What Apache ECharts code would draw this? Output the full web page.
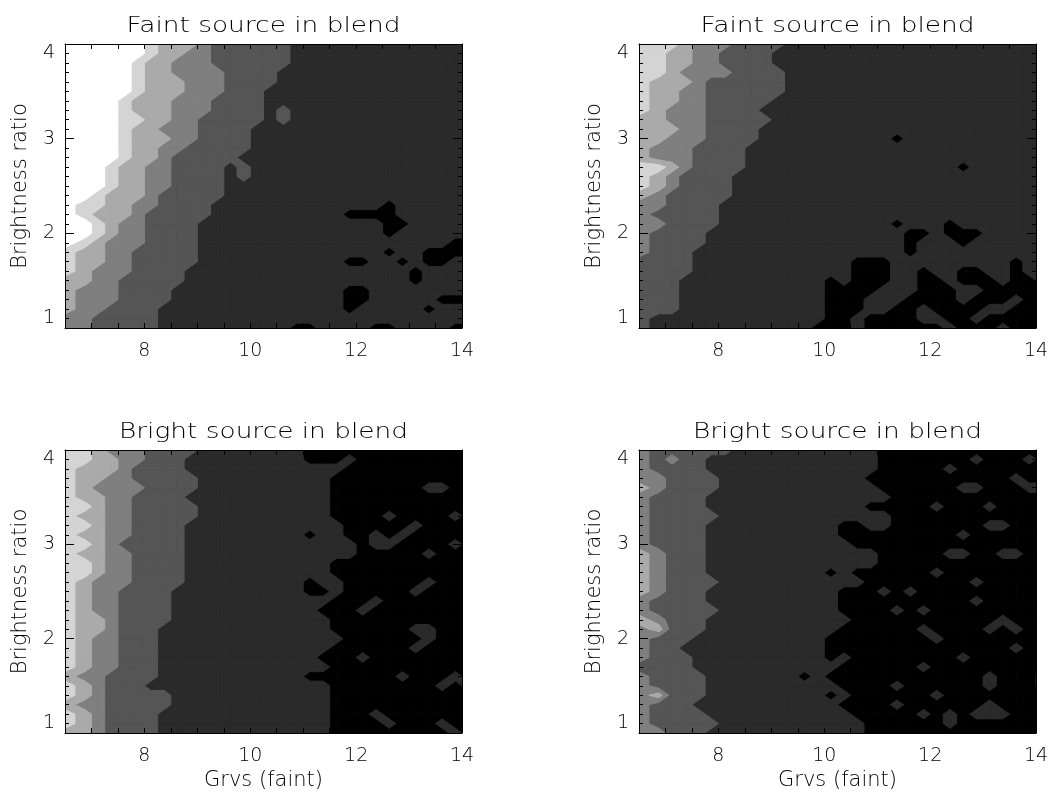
<!DOCTYPE html>
<html>
<head>
<meta charset="utf-8">
<script src="https://cdn.jsdelivr.net/npm/echarts@6/dist/echarts.min.js"></script>
<style>
  html, body { margin: 0; padding: 0; background: #fff; }
  #chart { width: 1056px; height: 796px; }
</style>
</head>
<body>
<div id="chart"></div>
<script>
// grid nodes of the contour maps (the first cell is stretched to the left axis edge)
const grvsNodes = [6.625, 6.875, 7.125, 7.375, 7.625, 7.875, 8.125, 8.375, 8.625, 8.875, 9.125,
  9.375, 9.625, 9.875, 10.125, 10.375, 10.625, 10.875, 11.125, 11.375, 11.625, 11.875, 12.125,
  12.375, 12.625, 12.875, 13.125, 13.375, 13.625, 13.875, 14.125];
const ratioNodes = [1.0, 1.1, 1.2, 1.3, 1.4, 1.5, 1.6, 1.7, 1.8, 1.9, 2.0, 2.1, 2.2, 2.3, 2.4, 2.5,
  2.6, 2.7, 2.8, 2.9, 3.0, 3.1, 3.2, 3.3, 3.4, 3.5, 3.6, 3.7, 3.8, 3.9, 4.0];
const xTickLabels = [8, 10, 12, 14];
const titles = ['Faint source in blend', 'Faint source in blend', 'Bright source in blend', 'Bright source in blend'];

// contour level at each node (0 = black ... 6 = white)
// one string per ratio row, top row (4.0) first, one digit per Grvs node
const faintLeft = [
  '6666665444322222211111111111111',
  '6666665443322222211111111111111',
  '6666654433322222211111111111111',
  '6666654433332222111111111111111',
  '6666654443332222111111111111111',
  '6666654443332221111111111111111',
  '6666544433322221111111111111111',
  '6666544433322221211111111111111',
  '6666554433222221211111111111111',
  '6666544333222211111111111111111',
  '6666544433222211111111111111111',
  '6666544332222211111111111111111',
  '6666544322222111111111111111111',
  '6665443322221211111111111111111',
  '6665443322221211111111111111111',
  '6665443322221111111111111111111',
  '6654443222221111111111111111110',
  '6554433222211111111111110111111',
  '6544432222211111111110000111111',
  '6654332222111111111111110011111',
  '6654332222111111111111110111111',
  '6543332222111111111111111111100',
  '5443322222111111111111110110000',
  '5443322222111111111110011010011',
  '5433322221111111111111111101111',
  '4433222221111111111111111101111',
  '4333222211111111111110011111111',
  '4333222211111111111110011111000',
  '4332222111111111111110111110111',
  '3322222111111111111111111111111',
  '3322222111111111100111100111100'
];
const faintRight = [
  '5554333222211111111111111111111',
  '5544332222111111111111111111111',
  '5544332222111111111111111111111',
  '5543333222211111111111111111111',
  '5444322222211111111111111111111',
  '5443322222211111111111111111111',
  '5443322222111111111111111111111',
  '5433322221111111111111111111111',
  '4433322222111111111111111111111',
  '4443322221111111111111111111111',
  '4433322221111111111011111111111',
  '4333222211111111111111111111111',
  '4333222211111111111111111111111',
  '5543222211111111111111110111111',
  '5432222111111111111111111111111',
  '5432222111111111111111111111111',
  '4322222111111111111111111111111',
  '3322221111111111111111111111111',
  '3222221111111111111111111111111',
  '3322221111111111111011101111111',
  '3222211111111111111100100011111',
  '3222211111111111111101110111111',
  '3222111111111111111101111111111',
  '2222111111111111000111111111011',
  '2222111111111111000110110011011',
  '2221111111111101000110010001001',
  '2221111111111100001110001100000',
  '2221111111111100011100001000100',
  '2221111111111100011001000011000',
  '2111111111111100100001100100000',
  '2111111111111000100000010001000'
];
const brightLeft = [
  '5543332222111111110000000000000',
  '5544332221111111110001000000000',
  '5444322221111111111110000000000',
  '5443322222111111111100000000000',
  '5433332222111111111100000001100',
  '5443322221111111111100000000000',
  '5543322222111111111100000000000',
  '5443322222111111111100001000010',
  '5543322221111111111110000010000',
  '5443322221111111110110010100000',
  '5543222221111111111111011000010',
  '5443322221111111111111000001000',
  '5543322221111111111100000000000',
  '5543322221111111111100000000000',
  '5433322221111111110110000001001',
  '5433222211111111110010000010000',
  '5433222211111111111100010000000',
  '5433222211111111111000100000000',
  '5443222211111111111100000000000',
  '5443222111111111111100000011000',
  '5433222111111111111110000001000',
  '5433222111111111111100000010000',
  '5433222111111111111000100000000',
  '5433222111111111111100000000000',
  '4332222111111111110000000100010',
  '5432221111111111111100000000101',
  '5432222211111111111100000000000',
  '4332222211111111111100000000000',
  '5432222111111111111100010000000',
  '5432222111111111111100001000100',
  '4432222111111111111100000000010'
];
const brightRight = [
  '3222222111111111110000000000000',
  '3232211111111111110000000100010',
  '3222211111111111110000010000000',
  '3322221111111111100000000000100',
  '4322221111111111110000001100011',
  '3222211111111111111000000000000',
  '3222211111111111100000100010000',
  '3222221111111111111000000000000',
  '3222211111111110011000000011000',
  '3222211111111110000000001000000',
  '3222211111111111000000000000000',
  '4322211111111111110000011001100',
  '4322211111111111110000000000000',
  '4322211111111101000000100000000',
  '4322221111111111100000000100000',
  '4322211111111110001010000000000',
  '3222211111111110000000000100000',
  '3222221111111110000101000000001',
  '4322211111111111000000000001000',
  '3422211111111110000001000010100',
  '3222111111111100000000100000000',
  '3221111111111100000000000000100',
  '3222111111111101000000001000000',
  '2222111111111110000001000000000',
  '3222211111110100000000000010001',
  '3222211111111110000100000010001',
  '3422211111111101000000100000000',
  '3222111111111110000100000010000',
  '3222211111111111000001010111000',
  '3222221111111111100000010000000',
  '3322211111111111100000000000000'
];

const levelColors = ['#000000', '#2a2a2a', '#555555', '#7f7f7f', '#aaaaaa', '#d4d4d4', '#ffffff'];
const FONT = 'DejaVu Sans';
const X_MIN = 6.5, X_MAX = 14;

const panels = [
  { rows: faintLeft, left: 65, top: 44, height: 284, xName: '' },
  { rows: faintRight, left: 639, top: 44, height: 284, xName: '' },
  { rows: brightLeft, left: 65, top: 450, height: 283, xName: 'Grvs (faint)' },
  { rows: brightRight, left: 639, top: 450, height: 283, xName: 'Grvs (faint)' }
];
const plotWidth = 397;

// part of a cell where the interpolated level is >= t (walk round the cell edge)
function clipAbove(poly, t) {
  const out = [];
  for (let k = 0; k < poly.length; k++) {
    const p = poly[k], q = poly[(k + 1) % poly.length];
    const pin = p[2] >= t, qin = q[2] >= t;
    if (pin) out.push(p);
    if (pin !== qin) {
      const s = (t - p[2]) / (q[2] - p[2]);
      out.push([p[0] + s * (q[0] - p[0]), p[1] + s * (q[1] - p[1]), t]);
    }
  }
  return out;
}

function makeRenderItem(rows) {
  const n = rows.length;
  const level = (i, j) => {
    const row = rows[n - 1 - i];
    return +(row[j] !== undefined ? row[j] : row[row.length - 1]);
  };
  return function (params, api) {
    const j = api.value(2), i = api.value(3);
    const x0 = j === 0 ? X_MIN : grvsNodes[j], x1 = grvsNodes[j + 1];
    const y0 = ratioNodes[i], y1 = ratioNodes[i + 1];
    const cell = [
      [x0, y0, level(i, j)], [x1, y0, level(i, j + 1)],
      [x1, y1, level(i + 1, j + 1)], [x0, y1, level(i + 1, j)]
    ];
    const vals = cell.map(c => c[2]);
    const lo = Math.min(...vals), hi = Math.max(...vals);
    const children = [];
    for (let lv = lo; lv <= hi; lv++) {
      const poly = lv === lo ? cell : clipAbove(cell, lv - 0.5);
      if (poly.length < 3) continue;
      const col = levelColors[lv];
      children.push({
        type: 'polygon',
        z2: lv,  // paint darker levels first across the whole panel
        shape: { points: poly.map(p => api.coord([p[0], p[1]])) },
        style: { fill: col, stroke: col, lineWidth: 1 }
      });
    }
    return { type: 'group', children };
  };
}

const cellData = [];
for (let i = 0; i < ratioNodes.length - 1; i++) {
  for (let j = 0; j < grvsNodes.length - 1; j++) {
    cellData.push([grvsNodes[j], ratioNodes[i], j, i]);
  }
}

const tickLine = { color: '#000', width: 1 };
const textStyle = { color: '#000', fontFamily: FONT, fontWeight: 200 };
const grids = [], xAxes = [], yAxes = [], series = [], graphics = [];

panels.forEach((p, k) => {
  grids.push({ left: p.left, top: p.top, width: plotWidth, height: p.height });
  const xBase = {
    gridIndex: k, type: 'value', min: X_MIN, max: X_MAX, interval: 0.5, z: 5,
    axisLine: { show: true, onZero: false, lineStyle: tickLine },
    axisTick: { show: true, inside: true, length: 5, lineStyle: tickLine },
    splitLine: { show: false }
  };
  xAxes.push(Object.assign({}, xBase, {
    position: 'bottom',
    axisLabel: Object.assign({
      formatter: val => (xTickLabels.indexOf(val) >= 0 ? String(val) : ''),
      fontSize: 19, margin: 14
    }, textStyle),
    name: p.xName, nameLocation: 'middle', nameGap: 37,
    nameTextStyle: Object.assign({ fontSize: 21 }, textStyle)
  }));
  xAxes.push(Object.assign({}, xBase, { position: 'top', axisLabel: { show: false } }));

  const yBase = {
    gridIndex: k, type: 'value', min: 1, max: 4, interval: 1, z: 5,
    axisLine: { show: true, onZero: false, lineStyle: tickLine },
    axisTick: { show: true, inside: true, length: 9, lineStyle: tickLine },
    minorTick: { show: true, splitNumber: 10, length: 4, lineStyle: tickLine },
    splitLine: { show: false }
  };
  yAxes.push(Object.assign({}, yBase, {
    position: 'left',
    axisLabel: Object.assign({
      fontSize: 19, margin: 10,
      verticalAlignMaxLabel: 'top', verticalAlignMinLabel: 'bottom'
    }, textStyle),
    name: 'Brightness ratio', nameLocation: 'middle', nameGap: 34,
    nameTextStyle: Object.assign({ fontSize: 21 }, textStyle)
  }));
  yAxes.push(Object.assign({}, yBase, { position: 'right', axisLabel: { show: false } }));

  series.push({
    type: 'custom',
    coordinateSystem: 'cartesian2d',
    xAxisIndex: 2 * k,
    yAxisIndex: 2 * k,
    renderItem: makeRenderItem(p.rows),
    data: cellData,
    encode: { x: 0, y: 1 },
    silent: true,
    animation: false,
    clip: true
  });

  // the titles use a wide, thin lettering, so stretch the text sideways
  graphics.push({
    type: 'text',
    x: p.left + plotWidth / 2,
    y: p.top - 18,
    scaleX: 1.2,
    style: {
      text: titles[k], fill: '#000', font: '200 22px "' + FONT + '"',
      textAlign: 'center', textVerticalAlign: 'middle'
    }
  });
});

const chart = echarts.init(document.getElementById('chart'));
chart.setOption({
  backgroundColor: '#fff',
  animation: false,
  grid: grids,
  xAxis: xAxes,
  yAxis: yAxes,
  series: series,
  graphic: graphics
});
</script>
</body>
</html>
